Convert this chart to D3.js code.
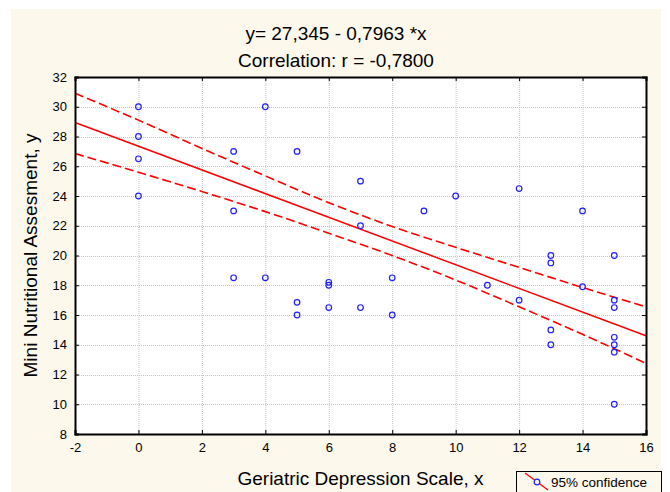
<!DOCTYPE html>
<html>
<head>
<meta charset="utf-8">
<script src="https://cdn.jsdelivr.net/npm/d3@7"></script>
<style>
  body { margin: 0; background: #fff; }
  svg { display: block; font-family: "Liberation Sans", Arial, sans-serif; }
</style>
</head>
<body>
<div id="chart"></div>
<script>
// observed points (Geriatric Depression Scale vs Mini Nutritional Assesment)
var gdsX = [0, 0, 0, 0, 3, 3, 3, 4, 4, 5, 5, 5, 6, 6, 6, 7, 7, 7, 8, 8, 9, 10, 11, 12, 12,
            13, 13, 13, 13, 14, 14, 15, 15, 15, 15, 15, 15, 15];
var mnaY = [30, 28, 26.5, 24, 27, 23, 18.5, 30, 18.5, 27, 16.85, 16, 18.2, 18, 16.5, 25, 22, 16.5, 18.5, 16, 23, 24, 18, 24.5, 17,
            20, 19.5, 15, 14, 23, 17.9, 20, 17, 16.5, 14.5, 14, 13.5, 10];

// fitted line from the title
var intercept = 27.345,
    slope = -0.7963;

// 95% confidence band
var bandX     = [-2, 0, 2, 4, 6, 8, 10, 12, 14, 16];
var bandUpper = [30.9, 29.1, 27.2, 25.35, 23.55, 21.95, 20.55, 19.2, 17.85, 16.55];
var bandLower = [26.85, 25.6, 24.3, 22.95, 21.5, 20.0, 18.35, 16.55, 14.7, 12.75];

var xTicks = [-2, 0, 2, 4, 6, 8, 10, 12, 14, 16];
var yTicks = [8, 10, 12, 14, 16, 18, 20, 22, 24, 26, 28, 30, 32];

var width = 670,
    height = 492;

var plot = { left: 75, right: 646, top: 77, bottom: 434 };

var svg = d3.select("#chart").append("svg")
    .attr("width", width)
    .attr("height", height);

// cream panel
svg.append("rect")
    .attr("x", 11).attr("y", 9)
    .attr("width", 650).attr("height", height)
    .attr("fill", "#fdf8ec");

var x = d3.scaleLinear().domain([-2, 16]).range([plot.left, plot.right]);
var y = d3.scaleLinear().domain([8, 32]).range([plot.bottom, plot.top]);

svg.append("rect")
    .attr("x", plot.left).attr("y", plot.top)
    .attr("width", plot.right - plot.left).attr("height", plot.bottom - plot.top)
    .attr("fill", "#fff");

// grid
var grid = svg.append("g")
    .attr("stroke", "#c4c4c4")
    .attr("stroke-width", 1)
    .attr("stroke-dasharray", "1,1");

grid.selectAll(".vg").data(xTicks.slice(1, -1)).enter().append("line")
    .attr("x1", d => x(d) + 0.5).attr("x2", d => x(d) + 0.5)
    .attr("y1", plot.top).attr("y2", plot.bottom);

grid.selectAll(".hg").data(yTicks.slice(1, -1)).enter().append("line")
    .attr("y1", d => Math.round(y(d)) + 0.5).attr("y2", d => Math.round(y(d)) + 0.5)
    .attr("x1", plot.left).attr("x2", plot.right);

// confidence band and fit
var band = d3.range(bandX.length);
var bandLine = d3.line().curve(d3.curveMonotoneX);

[bandUpper, bandLower].forEach(function(vals) {
    svg.append("path")
        .attr("d", bandLine(band.map(i => [x(bandX[i]), y(vals[i])])))
        .attr("fill", "none")
        .attr("stroke", "#ff0000")
        .attr("stroke-width", 1.6)
        .attr("stroke-dasharray", "9,4");
});

var fitEnds = [-2, 16];
svg.append("line")
    .attr("x1", x(fitEnds[0])).attr("y1", y(intercept + slope * fitEnds[0]))
    .attr("x2", x(fitEnds[1])).attr("y2", y(intercept + slope * fitEnds[1]))
    .attr("stroke", "#ff0000")
    .attr("stroke-width", 1.5);

// points
svg.append("g").selectAll("circle")
    .data(d3.range(gdsX.length))
    .enter().append("circle")
        .attr("cx", i => x(gdsX[i]))
        .attr("cy", i => y(mnaY[i]))
        .attr("r", 2.8)
        .attr("fill", "none")
        .attr("stroke", "#1f1fff")
        .attr("stroke-width", 1.2);

// axes (ticks pointing inward on all four sides)
var tickLen = 4;
var plain = d => String(d);   // keep the hyphen minus of the original
svg.append("g")
    .attr("transform", "translate(0," + plot.bottom + ")")
    .call(d3.axisBottom(x).tickValues(xTicks).tickSize(-tickLen).tickPadding(9).tickFormat(plain));
svg.append("g")
    .attr("transform", "translate(" + plot.left + ",0)")
    .call(d3.axisLeft(y).tickValues(yTicks).tickSize(-tickLen).tickPadding(8).tickFormat(plain));
svg.append("g")
    .attr("transform", "translate(0," + plot.top + ")")
    .call(d3.axisTop(x).tickValues(xTicks).tickSize(-tickLen).tickFormat(""));
svg.append("g")
    .attr("transform", "translate(" + plot.right + ",0)")
    .call(d3.axisRight(y).tickValues(yTicks).tickSize(-tickLen).tickFormat(""));

svg.selectAll(".domain").attr("stroke", "#000").attr("stroke-width", 2);
svg.selectAll(".tick line").attr("stroke", "#000");
svg.selectAll(".tick text")
    .attr("fill", "#000")
    .style("font-size", "13px")
    .style("font-family", "'Liberation Sans', Arial, sans-serif");

// titles
svg.append("text")
    .attr("x", 336).attr("y", 40)
    .attr("text-anchor", "middle")
    .style("font-size", "19px")
    .text("y= 27,345 - 0,7963 *x");
svg.append("text")
    .attr("x", 336).attr("y", 67)
    .attr("text-anchor", "middle")
    .style("font-size", "19px")
    .text("Correlation: r = -0,7800");

svg.append("text")
    .attr("x", (plot.left + plot.right) / 2).attr("y", 485)
    .attr("text-anchor", "middle")
    .style("font-size", "19px")
    .text("Geriatric Depression Scale, x");

svg.append("text")
    .attr("transform", "translate(37," + (plot.top + plot.bottom) / 2 + ") rotate(-90)")
    .attr("text-anchor", "middle")
    .style("font-size", "19px")
    .text("Mini Nutritional Assesment, y");

// legend
var legend = svg.append("g").attr("transform", "translate(516,471)");
legend.append("rect")
    .attr("x", 0.5).attr("y", 0.5)
    .attr("width", 145).attr("height", 30)
    .attr("fill", "#fdf8ec")
    .attr("stroke", "#000");
legend.append("line")
    .attr("x1", 9).attr("y1", 2).attr("x2", 32).attr("y2", 19)
    .attr("stroke", "#ff0000").attr("stroke-width", 1.3);
legend.append("circle")
    .attr("cx", 21).attr("cy", 11).attr("r", 2.8)
    .attr("fill", "#fdf8ec").attr("stroke", "#1f1fff").attr("stroke-width", 1.2);
legend.append("text")
    .attr("x", 35).attr("y", 15.5)
    .style("font-size", "13.5px")
    .text("95% confidence");
</script>
</body>
</html>
